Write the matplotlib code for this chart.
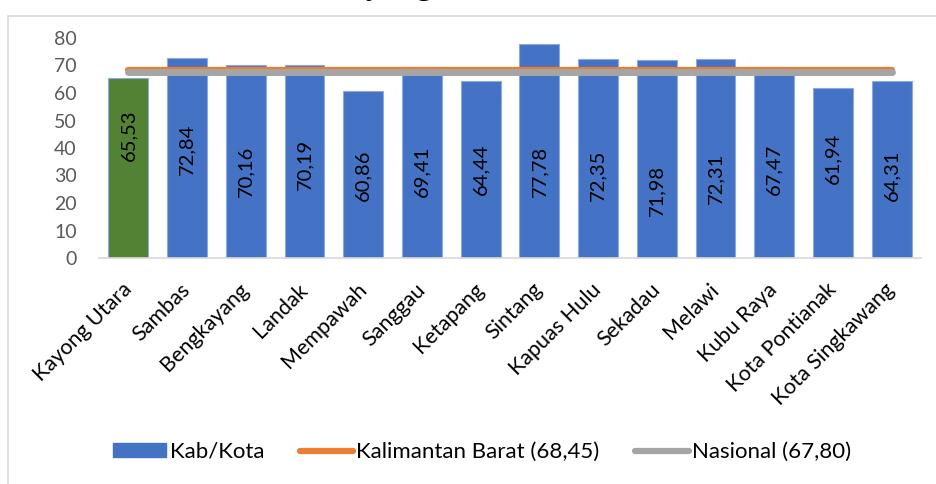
import matplotlib.pyplot as plt
from matplotlib.patches import Patch, Rectangle
from matplotlib.lines import Line2D
from matplotlib.transforms import ScaledTranslation

# --- DATA ---
regions = ['Kayong Utara', 'Sambas', 'Bengkayang', 'Landak', 'Mempawah', 'Sanggau',
           'Ketapang', 'Sintang', 'Kapuas Hulu', 'Sekadau', 'Melawi', 'Kubu Raya',
           'Kota Pontianak', 'Kota Singkawang']
ipm = [65.53, 72.84, 70.16, 70.19, 60.86, 69.41, 64.44, 77.78, 72.35, 71.98,
       72.31, 67.47, 61.94, 64.31]
kalbar = 68.45
nasional = 67.80
y_ticks = [0, 10, 20, 30, 40, 50, 60, 70, 80]

# where the value labels sit inside each bar (data units)
label_pos = [44.7, 39.6, 31.6, 34.2, 30.2, 31.6, 32.4, 31.6, 30.2, 24.7, 29.1, 32.4, 36.4, 30.2]

blue = '#4472C4'
green = '#548235'
orange = '#ED7D31'
grey = '#A5A5A5'

plt.rcParams['font.family'] = ['Lato', 'DejaVu Sans']

fig = plt.figure(figsize=(9.36, 4.84), dpi=100)

# chart area frame (cut off at right and bottom)
fig.patches.append(Rectangle((8 / 936, -0.1), 1.2, 1 - 16 / 484 + 0.1, transform=fig.transFigure,
                             fill=False, edgecolor='#D9D9D9', linewidth=1.2))

# title, mostly cut off above the picture
fig.text(380 / 936, 1 + 5.5 / 484, 'Kayong', family='Liberation Serif', fontsize=24,
         ha='center', va='baseline', color='black')

ax = fig.add_axes([99 / 936, 1 - 258 / 484, 822 / 936, 220 / 484])

x = list(range(len(regions)))
colors = [green] + [blue] * (len(regions) - 1)
ax.bar(x, ipm, width=0.68, color=colors, edgecolor='#8EA9DB', linewidth=0.8, zorder=2)

ax.plot([x[0], x[-1]], [kalbar, kalbar], color=orange, linewidth=4.5,
        solid_capstyle='round', zorder=3)
ax.plot([x[0], x[-1]], [nasional, nasional], color=grey, linewidth=5,
        solid_capstyle='round', zorder=4)

for xi, val, pos in zip(x, ipm, label_pos):
    ax.text(xi, pos, f'{val:.2f}'.replace('.', ','), rotation=90, ha='center', va='center',
            fontsize=14.5, color='black', zorder=5)

ax.set_xlim(-0.5, len(regions) - 0.5)
ax.set_ylim(0, 80)
ax.set_yticks(y_ticks)
ax.tick_params(axis='y', length=0, pad=16, labelsize=14, labelcolor='#595959')
ax.set_xticks(x)
ax.set_xticklabels(regions, rotation=45, ha='right', va='center', rotation_mode='anchor',
                   fontsize=15.5, color='black')
ax.tick_params(axis='x', length=0, pad=14)
shift = ScaledTranslation(0, -9 / 100, fig.dpi_scale_trans)
for lbl in ax.get_xticklabels():
    lbl.set_transform(lbl.get_transform() + shift)

for side in ['top', 'right', 'left']:
    ax.spines[side].set_visible(False)
ax.spines['bottom'].set_color('#D9D9D9')
ax.spines['bottom'].set_linewidth(1.2)

handles = [Patch(facecolor=blue, edgecolor=blue),
           Line2D([0], [0], color=orange, linewidth=4.5, solid_capstyle='round'),
           Line2D([0], [0], color=grey, linewidth=4.5, solid_capstyle='round')]
labels = ['Kab/Kota', 'Kalimantan Barat (68,45)', 'Nasional (67,80)']
fig.legend(handles, labels, loc='center', bbox_to_anchor=(482 / 936, 1 - 452 / 484), ncol=3,
           frameon=False, fontsize=16, handlelength=2.4, handleheight=0.55,
           handletextpad=0.15, columnspacing=1.6)

fig.savefig('out.png', dpi=100)
